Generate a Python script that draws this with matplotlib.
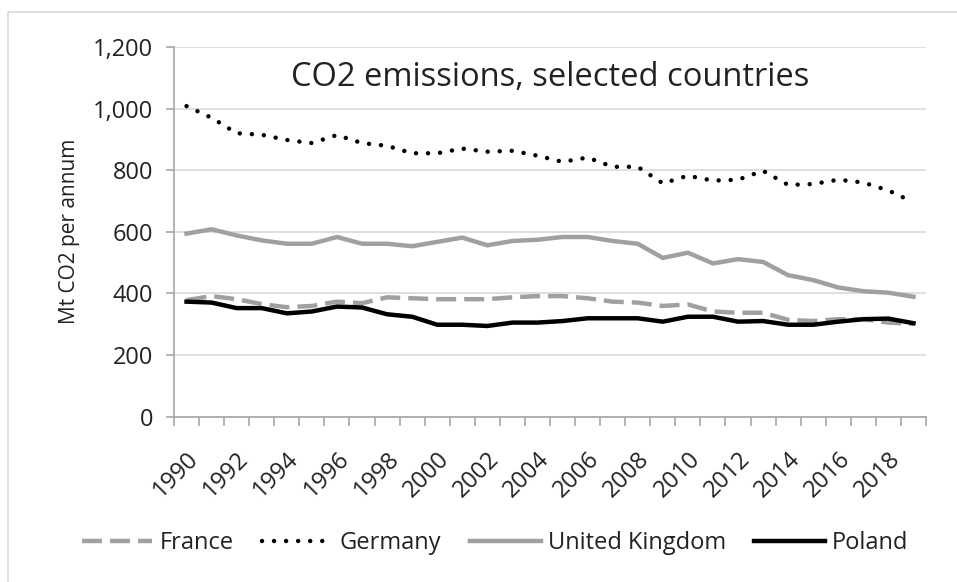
import matplotlib
matplotlib.use("Agg")
import matplotlib.pyplot as plt
import matplotlib.transforms as mtransforms
from matplotlib.patches import Rectangle
from matplotlib.ticker import FuncFormatter, FixedLocator, NullFormatter

plt.rcParams['font.family'] = ['Open Sans', 'DejaVu Sans']

# data (Mt CO2 per year)
years = list(range(1990, 2020))
france = [378, 391, 381, 365, 355, 359, 373, 368, 387, 384,
          381, 381, 381, 387, 391, 391, 384, 373, 370, 359,
          364, 341, 337, 337, 314, 310, 316, 316, 305, 301]
germany = [1008, 970, 920, 915, 898, 888, 914, 888, 879, 855,
           855, 870, 860, 863, 847, 827, 841, 811, 811, 757,
           782, 766, 769, 798, 752, 755, 769, 760, 734, 696]
uk = [594, 608, 588, 572, 561, 561, 583, 561, 561, 553,
      567, 581, 556, 570, 574, 583, 583, 570, 561, 515,
      532, 497, 511, 502, 459, 443, 419, 407, 402, 389]
poland = [373, 370, 352, 352, 335, 341, 357, 354, 332, 324,
          298, 298, 294, 305, 305, 310, 319, 319, 319, 308,
          324, 324, 308, 310, 298, 298, 308, 316, 318, 303]

W, H = 957, 582
fig = plt.figure(figsize=(W / 100, H / 100), dpi=100)
fig.patches.append(Rectangle((8 / W, -0.1), 1.2, 1 - 12 / H + 0.1, transform=fig.transFigure,
                             fill=False, edgecolor='#d9d9d9', lw=1.2))

ax = fig.add_axes([174 / W, 1 - 416.5 / H, (926 - 174) / W, (416.5 - 47) / H])
x = list(range(len(years)))

grey = '#a0a0a0'
txt = '#222222'
ax.plot(x, france, color=grey, lw=3.2, linestyle=(0, (4.5, 1.8)), label='France', zorder=3)
ax.plot(x, germany, color='black', lw=3.2, linestyle=(0, (0.01, 2.7)),
        dash_capstyle='round', label='Germany', zorder=3)
ax.plot(x, uk, color=grey, lw=3.2, label='United Kingdom', zorder=3)
ax.plot(x, poland, color='black', lw=3.2, label='Poland', zorder=4)

ax.set_xlim(-0.5, len(years) - 0.5)
ax.set_ylim(0, 1200)
ax.set_yticks(range(0, 1201, 200))
ax.yaxis.set_major_formatter(FuncFormatter(lambda v, p: '{:,.0f}'.format(v)))
ax.yaxis.grid(True, color='#d9d9d9', lw=1.2)
ax.set_axisbelow(True)

# ticks between categories, labels every 2nd year
ax.xaxis.set_major_locator(FixedLocator([i - 0.5 for i in range(len(years) + 1)]))
ax.xaxis.set_major_formatter(NullFormatter())
ax.xaxis.set_minor_locator(FixedLocator(x[::2]))
labs = ax.set_xticklabels([str(y) for y in years[::2]], minor=True, rotation=45,
                          ha='right', va='top', rotation_mode='anchor', fontsize=17, color=txt)
shift = mtransforms.ScaledTranslation(6 / 100, 0, fig.dpi_scale_trans)
for l in labs:
    l.set_transform(l.get_transform() + shift)
ax.tick_params(axis='x', which='minor', length=0, pad=22)
ax.tick_params(axis='x', which='major', length=6.5, color='#a6a6a6', width=1.2)
ax.tick_params(axis='y', length=6, color='#a6a6a6', width=1.2, labelsize=17,
               labelcolor=txt, pad=9)

for s in ['top', 'right']:
    ax.spines[s].set_visible(False)
for s in ['left', 'bottom']:
    ax.spines[s].set_color('#a6a6a6')
    ax.spines[s].set_linewidth(1.2)

ax.set_ylabel('Mt CO2 per annum', fontsize=15, color=txt, labelpad=9)
ax.text(0.5, 1 - (78 - 47) / (416.5 - 47), 'CO2 emissions, selected countries',
        transform=ax.transAxes, ha='center', va='center', fontsize=23.5, color=txt)

fig.legend(loc='center', bbox_to_anchor=(495 / W, 1 - 543 / H), ncol=4, frameon=False,
           fontsize=17, handlelength=3.0, handletextpad=0.3, columnspacing=1.2,
           labelcolor=txt)

fig.savefig('out.png', dpi=100)
